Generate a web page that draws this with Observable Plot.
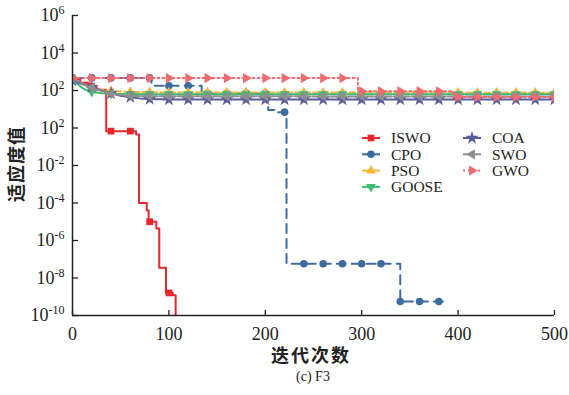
<!DOCTYPE html>
<html><head><meta charset="utf-8">
<script src="https://cdn.jsdelivr.net/npm/d3@7"></script>
<script src="https://cdn.jsdelivr.net/npm/@observablehq/plot@0.6"></script>
<style>
body{margin:0;background:#fff;}
#chart{width:569px;height:368px;}
.caption{font-family:"Liberation Serif","Times New Roman",Times,"DejaVu Serif",serif;font-size:14px;color:#222;box-sizing:border-box;width:569px;padding-left:57px;text-align:center;line-height:18px;height:18px;}
</style></head>
<body><div id="chart"></div><div class="caption">(c) F3</div>
<script>
// ---- data ----
const iterTicks = [0, 100, 200, 300, 400, 500];
const yTickValues = [1e6, 1e4, 1e2, 1e0, 1e-2, 1e-4, 1e-6, 1e-8, 1e-10];
const yTickExponents = ["6", "4", "2", "2", "-2", "-4", "-6", "-8", "-10"];
const seriesNames = ["ISWO", "CPO", "PSO", "GOOSE", "COA", "SWO", "GWO"];
const markerIters = [0,20,40,60,80,100,120,140,160,180,200,220,240,260,280,300,320,340,360,380,400,420,440,460,480,500];

const iswoIter = [0, 8, 16, 25, 35, 66, 69, 77, 79, 87, 90, 97, 104, 107];
const iswoFit  = [400, 260, 170, 110, 0.68, 0.45, 1e-4, 4e-5, 1e-5, 4.4e-6, 3.5e-8, 1.6e-9, 1.2e-9, 1e-13];

const cpoIter = [0, 82, 134, 203, 212, 222, 340, 385];
const cpoFit  = [470, 180, 70, 9, 7, 5.8e-8, 5.6e-10, 5.6e-10];

const psoIter = [0, 5, 10, 15, 20, 30, 40, 50, 60, 80, 100, 200, 300, 400, 500];
const psoFit  = [420, 300, 220, 170, 140, 110, 95, 88, 84, 81, 79, 78, 78, 77, 77];

const gooseIter = [0, 5, 10, 15, 20, 30, 40, 60, 80, 500];
const gooseFit  = [380, 230, 140, 100, 85, 72, 67, 65, 64, 64];

const coaIter = [0, 10, 20, 30, 40, 50, 60, 70, 80, 100, 500];
const coaFit  = [340, 230, 150, 100, 70, 52, 43, 38, 35, 33, 33];

const swoIter = [0, 5, 10, 15, 20, 30, 40, 50, 60, 80, 500];
const swoFit  = [420, 330, 250, 190, 145, 95, 70, 58, 52, 49, 48];

const gwoIter = [0, 296, 395, 500];
const gwoFit  = [460, 90, 45, 45];

// ---- styles ----
const serif = "'Liberation Serif', 'Times New Roman', Times, 'DejaVu Serif', serif";
const cjk = "'Noto Sans CJK SC', 'Noto Sans CJK JP', sans-serif";
const series = [
  {name: seriesNames[0], iter: iswoIter,  fit: iswoFit,  color: "#e8262c", dash: null,   curve: "step-after", symbol: "square",   sym: d3.symbolSquare,   rotate: 0,   r: 3.8},
  {name: seriesNames[1], iter: cpoIter,   fit: cpoFit,   color: "#3c6c9e", dash: "9,6",  curve: "step-after", symbol: "circle",   sym: d3.symbolCircle,   rotate: 0,   r: 3.8},
  {name: seriesNames[2], iter: psoIter,   fit: psoFit,   color: "#f5b638", dash: "6,3",  curve: "linear",     symbol: "triangle", sym: d3.symbolTriangle, rotate: 0,   r: 3.6},
  {name: seriesNames[3], iter: gooseIter, fit: gooseFit, color: "#3dba76", dash: null,   curve: "linear",     symbol: "triangle", sym: d3.symbolTriangle, rotate: 180, r: 3.6},
  {name: seriesNames[4], iter: coaIter,   fit: coaFit,   color: "#5b5c9c", dash: null,   curve: "linear",     symbol: "star",     sym: d3.symbolStar,     rotate: 0,   r: 4.2},
  {name: seriesNames[5], iter: swoIter,   fit: swoFit,   color: "#8e8e8e", dash: "7,2",  curve: "linear",     symbol: "triangle", sym: d3.symbolTriangle, rotate: -90, r: 3.8},
  {name: seriesNames[6], iter: gwoIter,   fit: gwoFit,   color: "#f26b70", dash: "2,3",  curve: "step-after", symbol: "triangle", sym: d3.symbolTriangle, rotate: 90,  r: 3.8}
];

function rowsOf(s) { return s.iter.map((t, i) => ({name: s.name, iter: t, fit: s.fit[i]})); }
function markersOf(s) {
  const last = s.iter[s.iter.length - 1];
  const out = [];
  for (const t of markerIters) {
    if (t > last) continue;
    const j = d3.bisectRight(s.iter, t) - 1;
    if (j >= 0 && s.fit[j] >= 1e-10) out.push({name: s.name, iter: t, fit: s.fit[j]});
  }
  return out;
}

const marks = [];
for (const s of series) {
  marks.push(Plot.line(rowsOf(s), {x: "iter", y: "fit", stroke: s.color, strokeWidth: 2, strokeDasharray: s.dash, curve: s.curve, clip: true}));
  marks.push(Plot.dot(markersOf(s), {x: "iter", y: "fit", symbol: s.symbol, rotate: s.rotate, r: s.r, fill: s.color, stroke: "none", clip: true}));
}
marks.push(Plot.ruleY([1e-10], {stroke: "#222", strokeWidth: 1.5}));
marks.push(Plot.ruleX([0], {stroke: "#222", strokeWidth: 1.5}));
marks.push(Plot.axisX({ticks: iterTicks, tickSize: -5, tickPadding: 17, tickFormat: d => String(d), label: null, stroke: "#222", strokeWidth: 1.3, fontSize: 18}));
marks.push(Plot.axisY({ticks: yTickValues, tickSize: -6, tickPadding: 14, tickFormat: d => "10^" + yTickExponents[yTickValues.indexOf(d)], label: null, stroke: "#222", strokeWidth: 1.3, fontSize: 18}));

const plot = Plot.plot({
  width: 569, height: 368,
  marginLeft: 72, marginRight: 15, marginTop: 15, marginBottom: 53,
  style: {fontFamily: serif, fontSize: "18px", color: "#222", background: "#fff", overflow: "visible"},
  x: {domain: [0, 500]},
  y: {type: "log", domain: [1e-10, 1e6]},
  marks
});
document.getElementById("chart").appendChild(plot);

const svg = d3.select(plot);
// superscript tick labels
svg.selectAll('g[aria-label="y-axis tick label"] text').each(function() {
  const t = d3.select(this);
  const raw = t.text();
  const exp = raw.split("^")[1];
  t.text("10");
  t.append("tspan").attr("dy", "-7").attr("font-size", "12px").text(exp);
});

// axis titles
svg.append("text")
  .attr("transform", "translate(17,164) rotate(-90)")
  .attr("text-anchor", "middle").attr("dy", "0.35em")
  .attr("font-family", cjk).attr("font-size", 18).attr("font-weight", 600)
  .attr("letter-spacing", "1px")
  .attr("fill", "#222").text("适应度值");
svg.append("text")
  .attr("x", 311).attr("y", 356)
  .attr("text-anchor", "middle").attr("dy", "0.35em")
  .attr("font-family", cjk).attr("font-size", 18).attr("font-weight", 600)
  .attr("letter-spacing", "2px")
  .attr("fill", "#222").text("迭代次数");

// legend
const leg = svg.append("g").attr("font-family", serif).attr("font-size", 15.5).attr("fill", "#222").attr("text-anchor", "start");
series.forEach((s, i) => {
  const col = i < 4 ? 0 : 1, row = i < 4 ? i : i - 4;
  const x0 = col ? 463 : 362, y0 = 138 + row * 16.3;
  const g = leg.append("g");
  g.append("line").attr("x1", x0).attr("x2", x0 + 18).attr("y1", y0).attr("y2", y0)
    .attr("stroke", s.color).attr("stroke-width", 2).attr("stroke-dasharray", s.dash === "2,3" ? "2,3" : null);
  g.append("path").attr("d", d3.symbol(s.sym, s.r * s.r * Math.PI)())
    .attr("transform", `translate(${x0 + 9},${y0}) rotate(${s.rotate})`).attr("fill", s.color);
  g.append("text").attr("x", x0 + 29).attr("y", y0).attr("dy", "0.35em").attr("text-anchor", "start").text(s.name);
});
</script>
</body></html>
